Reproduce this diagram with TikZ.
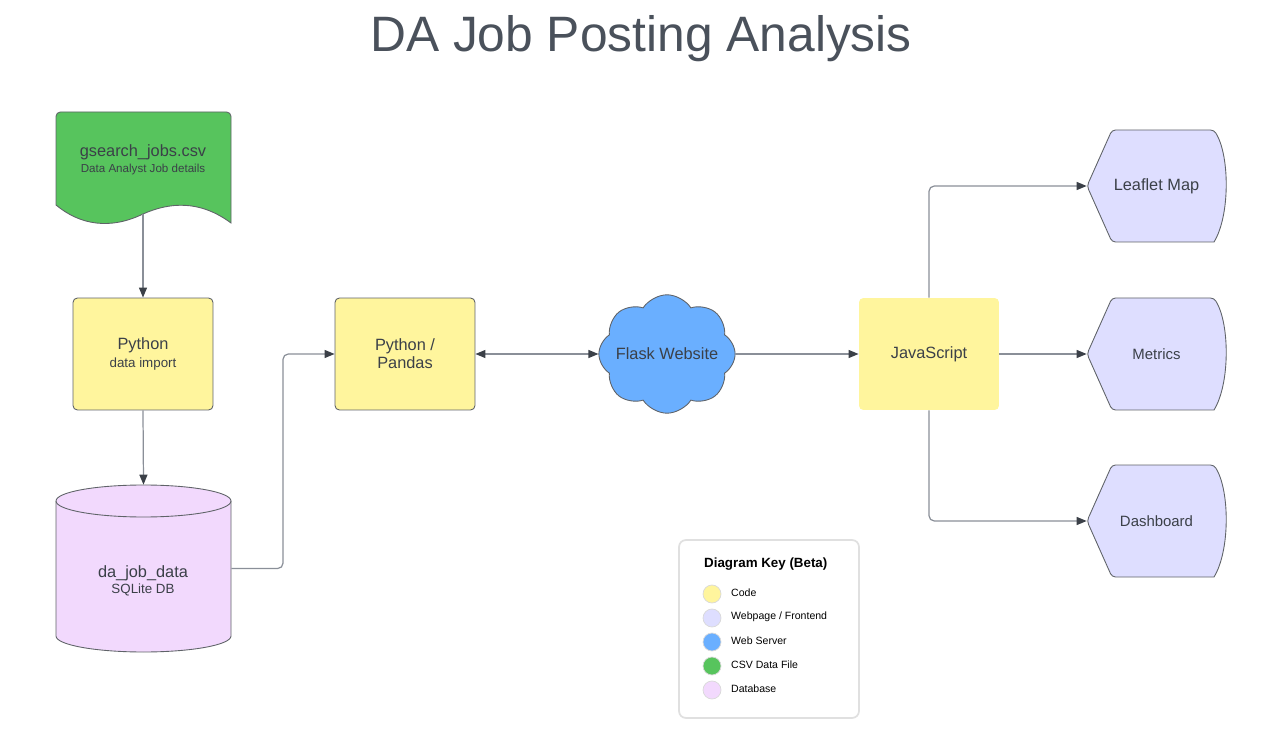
\documentclass[tikz,border=0pt]{standalone}
\usepackage{fontspec}
\setmainfont{Liberation Sans}
\usetikzlibrary{shapes.symbols,arrows.meta,positioning}

\definecolor{codeyel}{HTML}{FFF59D}
\definecolor{webpage}{HTML}{DEDEFF}
\definecolor{server}{HTML}{6AAFFF}
\definecolor{csvgreen}{HTML}{57C45D}
\definecolor{dbpink}{HTML}{F2D9FD}
\definecolor{txtdark}{HTML}{3B4048}
\definecolor{titlegray}{HTML}{4A515B}
\definecolor{edgegray}{HTML}{5F6368}
\definecolor{linegray}{HTML}{8A8F98}

\begin{document}
\begin{tikzpicture}[
    x=0.02cm, y=-0.02cm,
    font=\fontsize{9.3}{10.4}\selectfont, text=txtdark,
    codebox/.style={rectangle, rounded corners=2.5pt, fill=codeyel, draw=edgegray, line width=0.5pt,
        minimum width=2.8cm, minimum height=2.24cm, align=center},
    shapeline/.style={draw=edgegray, line width=0.5pt},
    flow/.style={draw=linegray, line width=0.7pt, rounded corners=3pt,
        -{Triangle[length=2mm,width=1.6mm,color=txtdark]}},
    keydot/.style={circle, draw=black!15, line width=0.4pt, minimum size=0.36cm, inner sep=0pt},
    keylabel/.style={font=\fontsize{6}{7}\selectfont, text=black, anchor=west}
]
\useasboundingbox (0,0) rectangle (1262,743);

% Title
\node[font=\fontsize{28.3}{31}\selectfont, text=titlegray] (title) at (641,39) {DA Job Posting Analysis};

% CSV data file (document shape)
\draw[shapeline, fill=csvgreen, rounded corners=2.5pt] (56,205) -- (56,112) -- (231,112) [sharp corners] -- (231,223)
    .. controls (200,200) and (170,202) .. (143,214)
    .. controls (110,230) and (80,225) .. (56,205) -- cycle;
\node[align=center] (csv) at (143,160) {gsearch\_jobs.csv\\[-1pt]{\fontsize{6.6}{8}\selectfont Data Analyst Job details}};
\coordinate (csvbot) at (143,214);

% Code boxes
\node[codebox] (pyimport) at (143,354) {Python\\{\fontsize{7.6}{10.4}\selectfont data import}};
\node[codebox] (pandas) at (405,354) {Python /\\Pandas};
\node[codebox, draw=none] (js) at (929,354) {JavaScript};

% SQLite database (cylinder)
\draw[shapeline, fill=dbpink] (56,501) -- (56,636) arc[start angle=180, end angle=360, x radius=87.5, y radius=-16]
    -- (231,501) arc[start angle=0, end angle=180, x radius=87.5, y radius=-16] -- cycle;
\draw[shapeline] (56,501) arc[start angle=180, end angle=360, x radius=87.5, y radius=-16];
\node[minimum width=3.5cm, minimum height=3.34cm] (db) at (143.5,568.5) {};
\node[align=center] (dbtext) at (143,581) {da\_job\_data\\[-1pt]{\fontsize{7.6}{9}\selectfont SQLite DB}};

% Flask web server
\node[cloud, cloud puffs=8, cloud puff arc=115, aspect=1.25, fill=server, draw=edgegray, line width=0.5pt,
    minimum width=2.35cm, minimum height=1.65cm, inner sep=-4pt] (flask) at (667,354) {Flask Website};

% Frontend pages
\foreach \n/\y/\t/\s in {leaflet/186/Leaflet Map/9.3, metrics/354/Metrics/8.5, dash/521/Dashboard/8.5} {
    \draw[shapeline, fill=webpage, rounded corners=2pt] (1087,\y) -- (1112,\y-56) -- (1214,\y-56) [sharp corners]
        .. controls (1230,\y-30) and (1230,\y+30) .. (1214,\y+56) [rounded corners=2pt] -- (1112,\y+56) -- cycle;
    \node[minimum width=2.78cm, minimum height=2.24cm, font=\fontsize{\s}{10}\selectfont] (\n) at (1156.5,\y) {\t};
}

% Connectors
\draw[flow] (csvbot) -- (pyimport.north);
\draw[flow] (pyimport.south) -- (db.north);
\draw[flow] (db.east) -| (283,354) -- (pandas.west);
\draw[flow, {Triangle[length=2mm,width=1.6mm,color=txtdark]}-{Triangle[length=2mm,width=1.6mm,color=txtdark]}]
    (pandas.east) -- (flask.west);
\draw[flow] (flask.east) -- (js.west);
\draw[flow] (js.north) |- (leaflet.west);
\draw[flow] (js.east) -- (metrics.west);
\draw[flow] (js.south) |- (dash.west);

% Diagram key
\draw[draw=black!12, line width=1pt, rounded corners=4pt] (679,540) rectangle (859,718);
\node[font=\bfseries\fontsize{7.6}{9}\selectfont, text=black, anchor=west] (keytitle) at (698,564) {Diagram Key (Beta)};
\foreach \y/\c/\t in {594/codeyel/Code, 618/webpage/{Webpage / Frontend}, 642/server/Web Server,
    666/csvgreen/CSV Data File, 690/dbpink/Database} {
    \node[keydot, fill=\c] at (712,\y) {};
    \node[keylabel] at (725,\y-1) {\t};
}

\end{tikzpicture}
\end{document}
